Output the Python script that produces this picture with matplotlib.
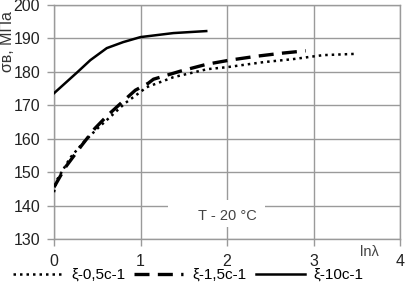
import matplotlib.pyplot as plt
from matplotlib.patches import Rectangle

plt.rcParams["font.family"] = ["Liberation Sans", "DejaVu Sans"]

# ln(lambda) and flow stress
x_05 = [0.0, 0.03, 0.19, 0.34, 0.5, 0.67, 0.82, 1.0, 1.07, 1.38, 1.77, 2.0, 2.42, 2.76, 3.11, 3.5]
y_05 = [144.0, 147.5, 154.4, 158.9, 163.0, 167.0, 170.6, 174.0, 175.4, 178.4, 180.8, 181.4, 182.9, 183.8, 185.0, 185.4]

x_15 = [0.0, 0.13, 0.32, 0.47, 0.62, 0.79, 0.94, 1.09, 1.15, 1.46, 1.77, 2.03, 2.35, 2.64, 2.91]
y_15 = [145.5, 151.4, 158.0, 163.0, 167.0, 171.0, 174.5, 176.6, 177.8, 180.2, 182.3, 183.5, 184.7, 185.6, 186.3]

x_10 = [0.0, 0.27, 0.42, 0.61, 0.8, 1.0, 1.38, 1.76]
y_10 = [173.6, 179.9, 183.5, 187.1, 188.9, 190.4, 191.6, 192.2]

labels = ["ξ-0,5c-1", "ξ-1,5c-1", "ξ-10c-1"]

fig = plt.figure(figsize=(4.05, 2.87), dpi=100)
ax = fig.add_axes([54 / 405, 1 - 239 / 287, 346 / 405, 234 / 287])

ax.plot(x_05, y_05, color="black", lw=1.8, linestyle=(0, (1, 1.6)), label=labels[0], zorder=3)
ax.plot(x_15, y_15, color="black", lw=2.4, linestyle=(0, (4.5, 2.5)), label=labels[1], zorder=3)
ax.plot(x_10, y_10, color="black", lw=1.8, label=labels[2], zorder=3)

ax.set_xlim(0, 4)
ax.set_ylim(130, 200)
ax.set_xticks([0, 1, 2, 3, 4])
ax.set_yticks(range(130, 201, 10))
ax.grid(True, color="#9a9a9a", lw=1.0)
ax.set_axisbelow(True)
for s in ax.spines.values():
    s.set_color("#9a9a9a")
    s.set_linewidth(1.0)
ax.tick_params(colors="#9a9a9a", labelcolor="#222222", labelsize=11.5,
               length=5, width=1.0, pad=5)
ax.tick_params(axis="x", pad=6)

# white box behind the temperature note
ax.add_patch(Rectangle((1.32, 133.6), 1.12, 8.0, fc="white", ec="none", zorder=2))
ax.text(2.0, 137.0, "T - 20 °C", ha="center", va="center", fontsize=10.5,
        color="#444444", zorder=3)

ax.text(3.65, 126.0, "lnλ", ha="center", va="center", fontsize=10.5,
        color="#444444", clip_on=False)

fig.text(7.5 / 405, 1 - 42 / 287, "σв, МПа", rotation=90, ha="center",
         va="center", fontsize=11.5, color="#333333")

fig.legend(loc="lower center", bbox_to_anchor=(0.465, -0.03), ncol=3,
           frameon=False, fontsize=11, handlelength=3.2, handletextpad=0.6,
           columnspacing=0.6)

fig.savefig("out.png", dpi=100)
